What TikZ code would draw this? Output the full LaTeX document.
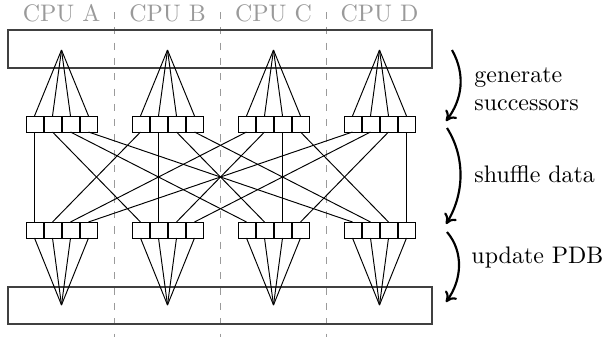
\documentclass[tikz,border=0pt]{standalone}
\usetikzlibrary{arrows.meta}
\definecolor{cpugray}{HTML}{9A9A9A}
\begin{document}
\begin{tikzpicture}[x=0.418pt,y=-0.418pt,
  cell/.style={draw,minimum width=7.1pt,minimum height=6.7pt,inner sep=0pt,outer sep=0pt},
  bigrect/.style={draw,black!75,line width=0.5pt},
  sep/.style={draw=cpugray,dash pattern=on 3pt off 3.4pt,line width=0.45pt},
  cpulabel/.style={text=cpugray,font=\fontsize{10}{12}\selectfont},
  phase/.style={line width=0.9pt,-{To[length=4pt,width=6pt]}},
  lbl/.style={anchor=west,align=left,font=\fontsize{10}{11.7}\selectfont,inner sep=0pt}]
\useasboundingbox (0,0) rectangle (606,337);
% separators
\foreach \x/\n in {114.5/s1,220.5/s2,326.5/s3}{
  \coordinate (\n a) at (\x,12);
  \coordinate (\n b) at (\x,337);
  \draw[sep] (\n a) -- (\n b);
}
% big rectangles
\node[bigrect,minimum width=177.2pt,minimum height=15.9pt,inner sep=0pt] (top) at (220,49) {};
\node[bigrect,minimum width=177.2pt,minimum height=15.5pt,inner sep=0pt] (bot) at (220,305.5) {};
% groups
\foreach \g/\name in {0/A,1/B,2/C,3/D}{
  \pgfmathsetmacro{\cx}{61.5+106*\g}
  \node[cpulabel] (cpu\g) at (\cx,13) {CPU \name};
  \coordinate (ta\g) at (\cx,50);
  \coordinate (ba\g) at (\cx,305);
  \foreach \i in {0,1,2,3}{
    \pgfmathsetmacro{\bx}{\cx+(\i-1.5)*18}
    \node[cell] (u\g\i) at (\bx,124) {};
    \node[cell] (l\g\i) at (\bx,230) {};
    \draw (ta\g) -- (u\g\i.north);
    \draw (l\g\i.south) -- (ba\g);
  }
}
% shuffle
\foreach \g in {0,1,2,3}{
  \foreach \i in {0,1,2,3}{
    \draw (u\g\i.south) -- (l\i\g.north);
  }
}
% phase arrows
\coordinate (p1a) at (452,50);
\coordinate (p1b) at (446,121);
\coordinate (p2a) at (447,128);
\coordinate (p2b) at (446,224);
\coordinate (p3a) at (447,232);
\coordinate (p3b) at (446,302);
\draw[phase] (p1a) .. controls (466,75) and (462,100) .. (p1b);
\draw[phase] (p2a) .. controls (466,158) and (464,195) .. (p2b);
\draw[phase] (p3a) .. controls (464,252) and (462,280) .. (p3b);
\node[lbl] (t1) at (474,89) {generate\\successors};
\node[lbl] (t2) at (474,174) {shuffle data};
\node[lbl] (t3) at (471,258) {update PDB};
\end{tikzpicture}
\end{document}
